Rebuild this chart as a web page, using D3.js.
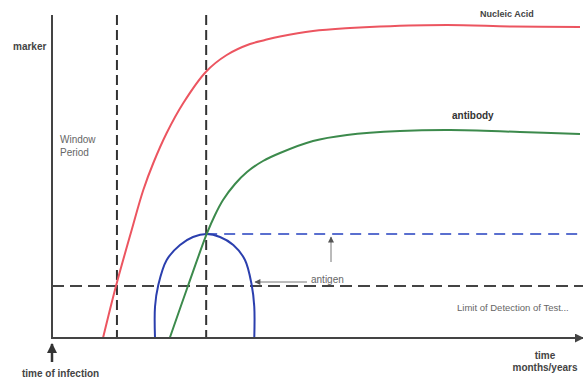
<!DOCTYPE html>
<html><head><meta charset="utf-8">
<script src="https://cdn.jsdelivr.net/npm/d3@7"></script>
<style>html,body{margin:0;padding:0;background:#fff;}svg{display:block;font-family:"Liberation Sans",Arial,sans-serif;}</style>
</head><body>
<svg id="c" width="583" height="379"></svg>
<script>
// Data (time 0..100, marker 0..100)
const nucleicAcid = [[9.66,0],[12.12,16.1],[15.09,33.44],[17.29,45.82],[19.19,54.18],[21.72,63.47],[24.87,72.76],[29.17,82.45],[33.09,87.62],[37.5,91.02],[40.34,92.26],[43.18,93.34],[49.43,95.05],[56.44,95.98],[62.12,96.44],[74.81,96.9],[87.31,96.44],[100,96.28]];
const antibody = [[22.3,0],[25.81,16.41],[29.3,32.2],[30.87,38.08],[32.39,42.72],[34.66,47.68],[36.93,51.39],[39.96,54.8],[43.18,57.28],[49.43,60.99],[55.87,62.85],[65.91,64.09],[75.38,64.4],[88.64,63.78],[100,63.16]];
const antigen = [[19.51,0],[19.51,9.69],[20.13,16.41],[21.72,24.15],[24.24,28.79],[26.7,31.27],[29.3,32.2],[31.82,31.27],[34.34,28.79],[36.55,24.15],[37.82,16.41],[38.31,9.69],[38.31,0]];
const windowBounds = [12.3, 29.2];
const detectionLimit = 16.1;
const antigenPeak = 32.2;
const labels = {y:"marker", x1:"time", x2:"months/years", origin:"time of infection", win1:"Window", win2:"Period",
  na:"Nucleic Acid", ab:"antibody", ag:"antigen", lod:"Limit of Detection of Test..."};

const svg = d3.select("#c");
const x = d3.scaleLinear().domain([0,100]).range([52,580]);
const y = d3.scaleLinear().domain([0,100]).range([338,15]);

const defs = svg.append("defs");
function marker(id, color, w, h){
  defs.append("marker").attr("id",id).attr("viewBox","0 0 10 10").attr("refX",9).attr("refY",5)
    .attr("markerWidth",w).attr("markerHeight",h).attr("markerUnits","userSpaceOnUse").attr("orient","auto")
    .append("path").attr("d","M0,0L10,5L0,10Z").attr("fill",color);
}
marker("axArrow","#444",9,9);
marker("grArrow","#555",7,6);
marker("upArrow","#333",11,10);

// vertical dashed window lines
svg.selectAll(".win").data(windowBounds).enter().append("line")
  .attr("x1",d=>x(d)).attr("x2",d=>x(d)).attr("y1",y(100)).attr("y2",y(0))
  .attr("stroke","#333").attr("stroke-width",2).attr("stroke-dasharray","10,5");

// limit of detection
svg.append("line").attr("x1",x(0)).attr("x2",583).attr("y1",y(detectionLimit)).attr("y2",y(detectionLimit))
  .attr("stroke","#444").attr("stroke-width",2).attr("stroke-dasharray","12,6");

// antigen peak dashed blue
svg.append("line").attr("x1",x(windowBounds[1])).attr("x2",583).attr("y1",y(antigenPeak)).attr("y2",y(antigenPeak))
  .attr("stroke","#5a6fcf").attr("stroke-width",2).attr("stroke-dasharray","11,7");

const lineC = d3.line().x(d=>x(d[0])).y(d=>y(d[1])).curve(d3.curveCatmullRom.alpha(0.5));

svg.append("path").attr("d",lineC(antigen)).attr("fill","none").attr("stroke","#2b3fae").attr("stroke-width",2);
svg.append("path").attr("d",lineC(antibody)).attr("fill","none").attr("stroke","#3c8a4c").attr("stroke-width",2);
svg.append("path").attr("d",lineC(nucleicAcid)).attr("fill","none").attr("stroke","#ec5560").attr("stroke-width",2);

// axes
svg.append("line").attr("x1",x(0)).attr("x2",x(0)).attr("y1",y(100)).attr("y2",y(0)).attr("stroke","#444").attr("stroke-width",2);
svg.append("line").attr("x1",x(0)-1).attr("x2",583).attr("y1",y(0)).attr("y2",y(0)).attr("stroke","#444").attr("stroke-width",2).attr("marker-end","url(#axArrow)");

// time of infection arrow
svg.append("line").attr("x1",x(0)).attr("x2",x(0)).attr("y1",362).attr("y2",344).attr("stroke","#333").attr("stroke-width",2.5).attr("marker-end","url(#upArrow)");

// antigen pointer
svg.append("line").attr("x1",307).attr("x2",255).attr("y1",282).attr("y2",282).attr("stroke","#777").attr("stroke-width",1).attr("marker-end","url(#grArrow)");
// up arrow under antigen peak line
svg.append("line").attr("x1",331).attr("x2",331).attr("y1",262).attr("y2",237).attr("stroke","#777").attr("stroke-width",1).attr("marker-end","url(#grArrow)");

function txt(t,xx,yy,opts){
  const o = Object.assign({size:10,weight:"normal",fill:"#555",anchor:"start"},opts||{});
  svg.append("text").attr("x",xx).attr("y",yy).attr("font-size",o.size).attr("font-weight",o.weight)
    .attr("fill",o.fill).attr("text-anchor",o.anchor).text(t);
}
txt(labels.y,13,50,{weight:"bold",fill:"#444"});
txt(labels.win1,60,143,{fill:"#666"});
txt(labels.win2,60,156,{fill:"#666"});
txt(labels.na,480,17,{weight:"bold",fill:"#444",size:9});
txt(labels.ab,452,119,{weight:"bold",fill:"#333"});
txt(labels.ag,311,283,{fill:"#666"});
txt(labels.lod,457,311,{fill:"#666",size:9.5});
txt(labels.x1,545,359,{weight:"bold",fill:"#444",anchor:"middle"});
txt(labels.x2,545,371,{weight:"bold",fill:"#444",anchor:"middle"});
txt(labels.origin,22,377,{weight:"bold",fill:"#444"});
</script>
</body></html>
